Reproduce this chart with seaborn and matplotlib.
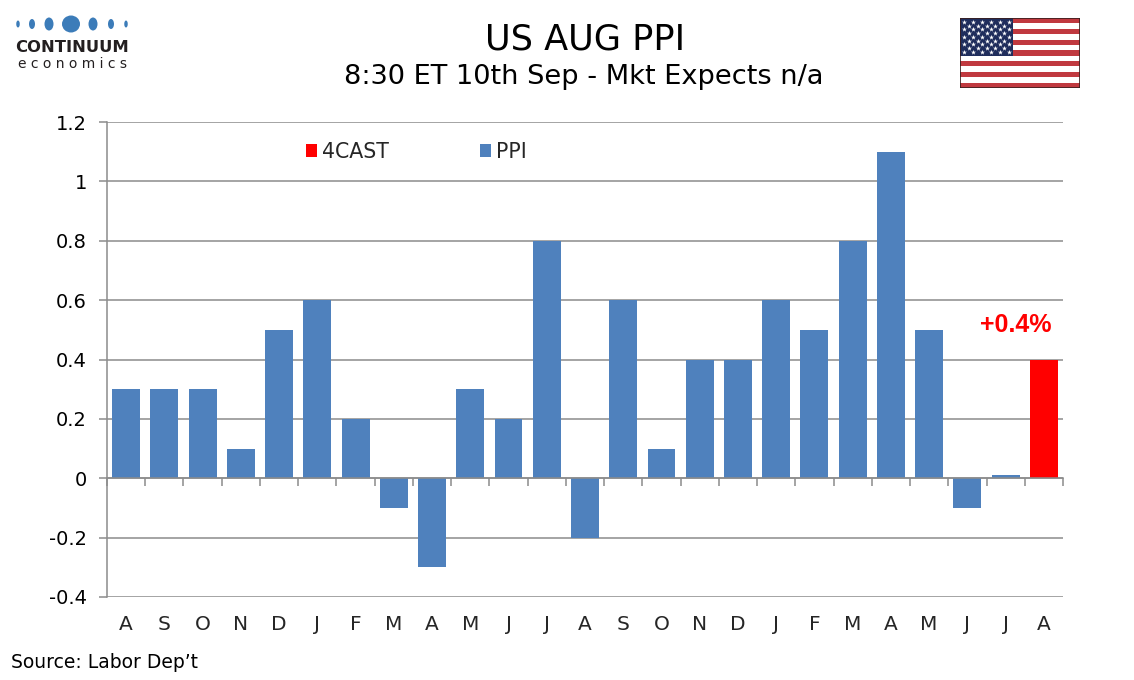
import matplotlib
matplotlib.use("Agg")
import matplotlib.pyplot as plt
from matplotlib.patches import Ellipse, Rectangle, Patch
import numpy as np
import pandas as pd
import seaborn as sns

# ---- data ----
months = ["A", "S", "O", "N", "D", "J", "F", "M", "A", "M", "J", "J",
          "A", "S", "O", "N", "D", "J", "F", "M", "A", "M", "J", "J", "A"]
ppi_values = [0.3, 0.3, 0.3, 0.1, 0.5, 0.6, 0.2, -0.1, -0.3, 0.3, 0.2, 0.8,
              -0.2, 0.6, 0.1, 0.4, 0.4, 0.6, 0.5, 0.8, 1.1, 0.5, -0.1, 0.01]
forecast_value = [0.4]
series_names = ["4CAST", "PPI"]
y_ticks = [-0.4, -0.2, 0, 0.2, 0.4, 0.6, 0.8, 1, 1.2]

title = "US AUG PPI"
subtitle = "8:30 ET 10th Sep - Mkt Expects n/a"
source = "Source: Labor Dep\u2019t"
forecast_label = "+0.4%"

BLUE = "#4F81BD"
RED = "#FF0000"
GRID = "#8C8C8C"
FONT = ["DejaVu Sans"]

values = ppi_values + forecast_value
series = ["PPI"] * len(ppi_values) + ["4CAST"] * len(forecast_value)
idx = [str(i) for i in range(len(values))]
df = pd.DataFrame({"idx": idx, "value": values, "series": series})

sns.set_theme(style="white")
plt.rcParams["font.family"] = FONT
plt.rcParams["axes.unicode_minus"] = False

W, H = 1134, 680
fig = plt.figure(figsize=(W / 100, H / 100), dpi=100)
fig.patch.set_facecolor("white")

def fx(px):
    return px / W

def fy(py):
    return 1 - py / H

ax_l, ax_r, ax_t, ax_b = 107, 1063, 122, 597
ax = fig.add_axes([fx(ax_l), fy(ax_b), fx(ax_r - ax_l), (ax_b - ax_t) / H])

sns.barplot(data=df, x="idx", y="value", hue="series", order=idx,
            hue_order=series_names, palette={"4CAST": RED, "PPI": BLUE},
            dodge=False, width=0.73, saturation=1, ax=ax, legend=True,
            edgecolor="none", linewidth=0)

ax.set_xlim(-0.5, len(values) - 0.5)
ax.set_ylim(y_ticks[0], y_ticks[-1])
ax.set_yticks(y_ticks)
ax.set_yticklabels([f"{v:g}" for v in y_ticks], fontsize=14, color="black", family=FONT)
ax.yaxis.grid(True, color=GRID, linewidth=1.1)
ax.set_axisbelow(True)
ax.tick_params(axis="y", left=True, length=5.5, width=1.1, color=GRID, pad=9)
for s in ["top", "right"]:
    ax.spines[s].set_visible(False)
ax.spines["left"].set_color(GRID)
ax.spines["left"].set_linewidth(1.1)

# x axis line at zero with tick marks between categories
ax.spines["bottom"].set_position(("data", 0))
ax.spines["bottom"].set_color(GRID)
ax.spines["bottom"].set_linewidth(1.1)
ax.set_xticks(np.arange(len(values) + 1) - 0.5)
ax.set_xticklabels([])
ax.tick_params(axis="x", bottom=True, length=6, width=1.1, color=GRID, direction="out")
ax.set_xlabel("")
ax.set_ylabel("")

sec = ax.secondary_xaxis(location=0)
sec.set_xticks(np.arange(len(values)))
sec.set_xticklabels(months, fontsize=14.5, family=FONT)
sec.tick_params(length=0, pad=13)
sec.spines["bottom"].set_visible(False)

# legend
handles = [Patch(facecolor=RED, edgecolor="none"), Patch(facecolor=BLUE, edgecolor="none")]
ax.legend(handles, series_names, loc="center left", bbox_to_anchor=(0.208, 0.937),
          ncol=2, frameon=False, prop={"family": FONT, "size": 14.8},
          handlelength=0.55, handleheight=0.55,
          handletextpad=0.25, columnspacing=4.4, borderpad=0, borderaxespad=0)

# forecast label
ax.annotate(forecast_label, xy=(len(values) - 1, forecast_value[0]),
            xytext=(-20, 25), textcoords="offset points", ha="center", va="center",
            fontsize=18, fontweight="bold", color=RED, family="Liberation Sans")

# titles
fig.text(fx(585), fy(40), title, ha="center", va="center", fontsize=25.3, color="black", family=FONT)
fig.text(fx(584), fy(77), subtitle, ha="center", va="center", fontsize=19.6, color="black", family=FONT)
fig.text(fx(11), fy(663), source, ha="left", va="center", fontsize=13.5, color="black", family=FONT)

# logo
DOT = "#3C7CB9"
dots = [(18, 3.5, 7), (32, 6, 10), (49, 9, 13), (71, 18, 17), (93, 9, 13), (111, 6, 10), (126, 3.5, 7)]
for cx, w, h in dots:
    fig.patches.append(Ellipse((fx(cx), fy(24)), w / W, h / H, transform=fig.transFigure,
                               facecolor=DOT, edgecolor="none"))
fig.text(fx(72), fy(47), "CONTINUUM", ha="center", va="center", fontsize=11.8,
         fontweight="bold", color="#231F20", family=FONT)
fig.text(fx(72), fy(64), "e c o n o m i c s", ha="center", va="center", fontsize=10,
         color="#231F20", family=FONT)

# flag
fax = fig.add_axes([fx(960), fy(88), fx(120), 70 / H])
fax.set_xlim(0, 1.9)
fax.set_ylim(0, 1)
fax.axis("off")
stripe_h = 1 / 13
for i in range(13):
    c = "#C0393F" if i % 2 == 0 else "white"
    fax.add_patch(Rectangle((0, 1 - (i + 1) * stripe_h), 1.9, stripe_h, facecolor=c, edgecolor="none"))
canton_w = 0.84
fax.add_patch(Rectangle((0, 1 - 7 * stripe_h), canton_w, 7 * stripe_h, facecolor="#1F2D5C", edgecolor="none"))
sx, sy = [], []
step = canton_w / 6
for r in range(9):
    n = 6 if r % 2 == 0 else 5
    off = step / 2 if r % 2 == 0 else step
    for k in range(n):
        sx.append(off + k * step)
        sy.append(1 - (r + 1) * (7 * stripe_h) / 10)
fax.scatter(sx, sy, marker="*", s=14, color="white", linewidths=0)
fax.add_patch(Rectangle((0, 0), 1.9, 1, facecolor="none", edgecolor="#3A1F1F", linewidth=1.2))

fig.savefig("out.png", dpi=100, facecolor="white")
